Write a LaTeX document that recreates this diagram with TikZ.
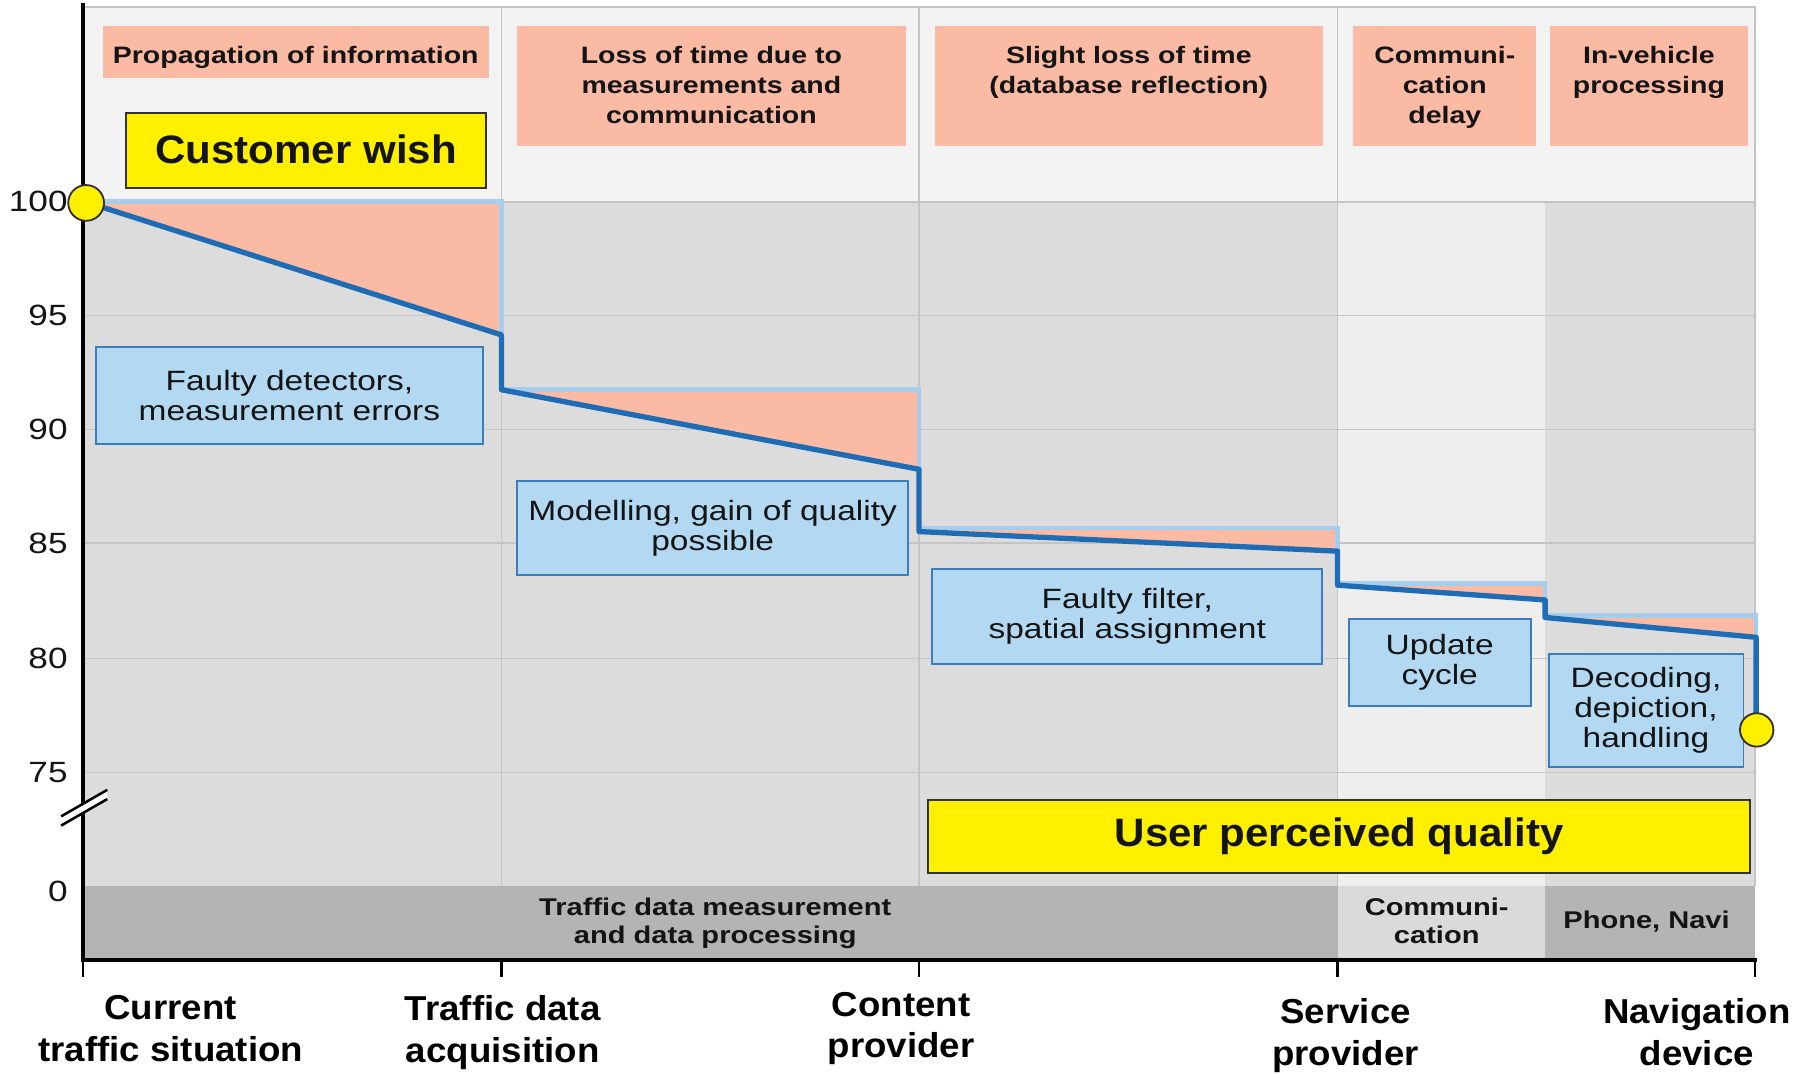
\documentclass[tikz,border=0pt]{standalone}
\usepackage{fontspec}
\setmainfont{Liberation Sans}
\newfontfamily\fa{Liberation Sans}[FakeStretch=1.2]
\newfontfamily\fb{Liberation Sans}[FakeStretch=1.06]
\usetikzlibrary{fit}
\definecolor{salmon}{RGB}{250,186,164}
\definecolor{bgtop}{RGB}{243,243,243}
\definecolor{bggrey}{RGB}{220,220,220}
\definecolor{bglight}{RGB}{238,238,238}
\definecolor{gridc}{RGB}{196,196,196}
\definecolor{banddark}{RGB}{180,180,180}
\definecolor{bandlight}{RGB}{218,218,218}
\definecolor{curveblue}{RGB}{30,108,180}
\definecolor{idealblue}{RGB}{166,205,236}
\definecolor{boxblue}{RGB}{178,216,242}
\definecolor{boxedge}{RGB}{60,125,190}
\definecolor{yel}{RGB}{255,240,0}
\definecolor{yeledge}{RGB}{50,50,50}
\definecolor{txt}{RGB}{20,20,20}
\begin{document}
\begin{tikzpicture}[x=0.5pt,y=-0.5pt,
  topbox/.style={fill=salmon, draw=none, inner sep=0pt},
  toplabel/.style={anchor=north, align=center, inner sep=0pt, text=txt, font={\fa\bfseries\fontsize{10.3}{13}\selectfont}},
  bluebox/.style={fill=boxblue, draw=boxedge, line width=0.8pt, inner sep=0pt},
  bluetext/.style={anchor=center, align=center, inner sep=0pt, text=txt, font={\fa\fontsize{12.1}{13}\selectfont}},
  yelbox/.style={fill=yel, draw=yeledge, line width=0.9pt, inner sep=0pt},
  yeltext/.style={anchor=center, inner sep=0pt, text=txt, font={\fb\bfseries\fontsize{17.2}{20}\selectfont}},
  bandlabel/.style={align=center, inner sep=0pt, text=txt, font={\fa\bfseries\fontsize{10.5}{12.3}\selectfont}},
  axlabel/.style={anchor=north, align=center, inner sep=0pt, text=black, font={\fb\bfseries\fontsize{15}{18}\selectfont}},
  ticklabel/.style={anchor=east, inner sep=0pt, text=txt, font={\fa\fontsize{12.7}{14}\selectfont}},
  gridline/.style={draw=gridc, line width=0.7pt},
  lossfill/.style={fill=salmon},
  ideal/.style={draw=idealblue, line width=2pt},
  curve/.style={draw=curveblue, line width=2.3pt, line join=round},
  axisline/.style={draw=black, line width=1.75pt},
  tickmark/.style={draw=black, line width=1.25pt},
  marker/.style={circle, fill=yel, draw=yeledge, line width=0.8pt, inner sep=0pt}
]
\useasboundingbox (0,0) rectangle (1568,931);
\fill[white] (0,0) rectangle (1568,931);

% backgrounds
\fill[bgtop] (72,6) rectangle (1522,175);
\fill[bggrey] (72,175) rectangle (1522,768.5);
\fill[bglight] (1160,175) rectangle (1340,768.5);

% grid
\foreach \yy in {175,273.5,372.5,471,571,670} \draw[gridline] (72,\yy) -- (1522,\yy);
\foreach \xx in {435,797,1160} \draw[gridline] (\xx,6) -- (\xx,768.5);
\draw[gridline] (72,6) -- (1522,6) -- (1522,768.5);

% bottom band
\fill[banddark] (72,768.5) rectangle (1160,832.5);
\fill[bandlight] (1160,768.5) rectangle (1340,832.5);
\fill[banddark] (1340,768.5) rectangle (1522,832.5);

% top boxes
\node[topbox, fit={(89,22.5) (424,68)}] (t1) {};
\node[toplabel] (t1l) at (256.5,40) {Propagation of information};
\node[topbox, fit={(448,22.5) (786,126.6)}] (t2) {};
\node[toplabel] (t2l) at (617,40) {Loss of time due to\\measurements and\\communication};
\node[topbox, fit={(810.7,22.5) (1147.2,126.6)}] (t3) {};
\node[toplabel] (t3l) at (979,40) {Slight loss of time\\(database reflection)};
\node[topbox, fit={(1173.7,22.5) (1332.4,126.6)}] (t4) {};
\node[toplabel] (t4l) at (1253,40) {Communi-\\cation\\delay};
\node[topbox, fit={(1344.6,22.5) (1515.6,126.6)}] (t5) {};
\node[toplabel] (t5l) at (1430,40) {In-vehicle\\processing};

% customer wish
\node[yelbox, fit={(109.5,97.7) (421.5,162.8)}] (cw) {};
\node[yeltext] (cwl) at ([yshift=0.5pt]cw.center) {Customer wish};

% curve points
\coordinate (p0) at (74,175);
\coordinate (p1) at (435,290.5);
\coordinate (p2) at (435,338);
\coordinate (p3) at (797,407);
\coordinate (p4) at (797,461);
\coordinate (p5) at (1160,478);
\coordinate (p6) at (1160,507.5);
\coordinate (p7) at (1340,520.3);
\coordinate (p8) at (1340,535.5);
\coordinate (p9) at (1523,552.7);
\coordinate (p10) at (1523,633);
\coordinate (q1) at (435,175);
\coordinate (q2) at (797,338);
\coordinate (q3) at (1160,458);
\coordinate (q4) at (1340,506);
\coordinate (q5) at (1523,534);
\coordinate (r3) at (797,458);
\coordinate (r4) at (1160,506);
\coordinate (r5) at (1340,534);

% losses
\fill[lossfill] (p0) -- (q1) -- (p1) -- cycle;
\fill[lossfill] (p2) -- (q2) -- (p3) -- cycle;
\fill[lossfill] (r3) -- (q3) -- (p5) -- cycle;
\fill[lossfill] (r4) -- (q4) -- (p7) -- cycle;
\fill[lossfill] (r5) -- (q5) -- (p9) -- cycle;

% ideal lines
\draw[ideal] (p0) -- (q1) -- (p1);
\draw[ideal] (p2) -- (q2) -- (p3);
\draw[ideal] (r3) -- (q3) -- (p5);
\draw[ideal] (r4) -- (q4) -- (p7);
\draw[ideal] (r5) -- (q5) -- (p9);

% real curve
\draw[curve] (p0) -- (p1) -- (p2) -- (p3) -- (p4) -- (p5) -- (p6) -- (p7) -- (p8) -- (p9) -- (p10);

% blue boxes
\node[bluebox, fit={(83,300.7) (419,385)}] (b1) {};
\node[bluetext] (b1l) at (b1.center) {Faulty detectors,\\measurement errors};
\node[bluebox, fit={(448.7,417.5) (787.5,498.6)}] (b2) {};
\node[bluetext] (b2l) at (b2.center) {Modelling, gain of quality\\possible};
\node[bluebox, fit={(808.4,493.4) (1146.8,575.8)}] (b3) {};
\node[bluetext] (b3l) at (b3.center) {Faulty filter,\\spatial assignment};
\node[bluebox, fit={(1169.6,536.5) (1327.5,612)}] (b4) {};
\node[bluetext] (b4l) at (b4.center) {Update\\cycle};
\node[bluebox, fit={(1343,567.5) (1512,664.9)}] (b5) {};
\node[bluetext] (b5l) at (b5.center) {Decoding,\\depiction,\\handling};

% user perceived quality
\node[yelbox, fit={(805,693.8) (1517.7,757.5)}] (upq) {};
\node[yeltext] (upql) at (upq.center) {User perceived quality};

% band labels
\node[bandlabel, anchor=north] (bl1) at (620.3,778.2) {Traffic data measurement\\and data processing};
\node[bandlabel, anchor=north] (bl2) at (1246,778.2) {Communi-\\cation};
\node[bandlabel, anchor=base] (bl3) at (1428,805) {Phone, Navi};

% axes
\coordinate (ytop) at (72,3);
\coordinate (origin) at (72,832.5);
\coordinate (xend) at (1523.5,832.5);
\draw[axisline] (ytop) -- (72,834.2);
\draw[axisline] (70.25,832.5) -- (xend);
\foreach \xx in {72,435,797,1160,1522} \draw[tickmark] (\xx,832.5) -- (\xx,847);

% axis break
\fill[white] (53,708) -- (93,685) -- (93,693) -- (53,716) -- cycle;
\draw[black, line width=1.1pt] (53,708) -- (93,685);
\draw[black, line width=1.1pt] (53,716) -- (93,693);

% tick labels
\node[ticklabel] (y100) at (59,175) {100};
\node[ticklabel] (y95) at (59,273.5) {95};
\node[ticklabel] (y90) at (59,372.5) {90};
\node[ticklabel] (y85) at (59,471) {85};
\node[ticklabel] (y80) at (59,571) {80};
\node[ticklabel] (y75) at (59,670) {75};
\node[ticklabel] (y0) at (59,773) {0};

% markers
\node[marker, minimum size=15.5pt] (mstart) at (74.7,176) {};
\node[marker, minimum size=14.5pt] (mend) at (1523.5,633) {};

% x labels
\node[axlabel] (x1) at (148,863) {Current\\traffic situation};
\node[axlabel] (x2) at (436,863) {Traffic data\\acquisition};
\node[axlabel] (x3) at (781.5,860) {Content\\provider};
\node[axlabel] (x4) at (1167,865.5) {Service\\provider};
\node[axlabel] (x5) at (1471.5,865.5) {Navigation\\device};
\end{tikzpicture}
\end{document}
